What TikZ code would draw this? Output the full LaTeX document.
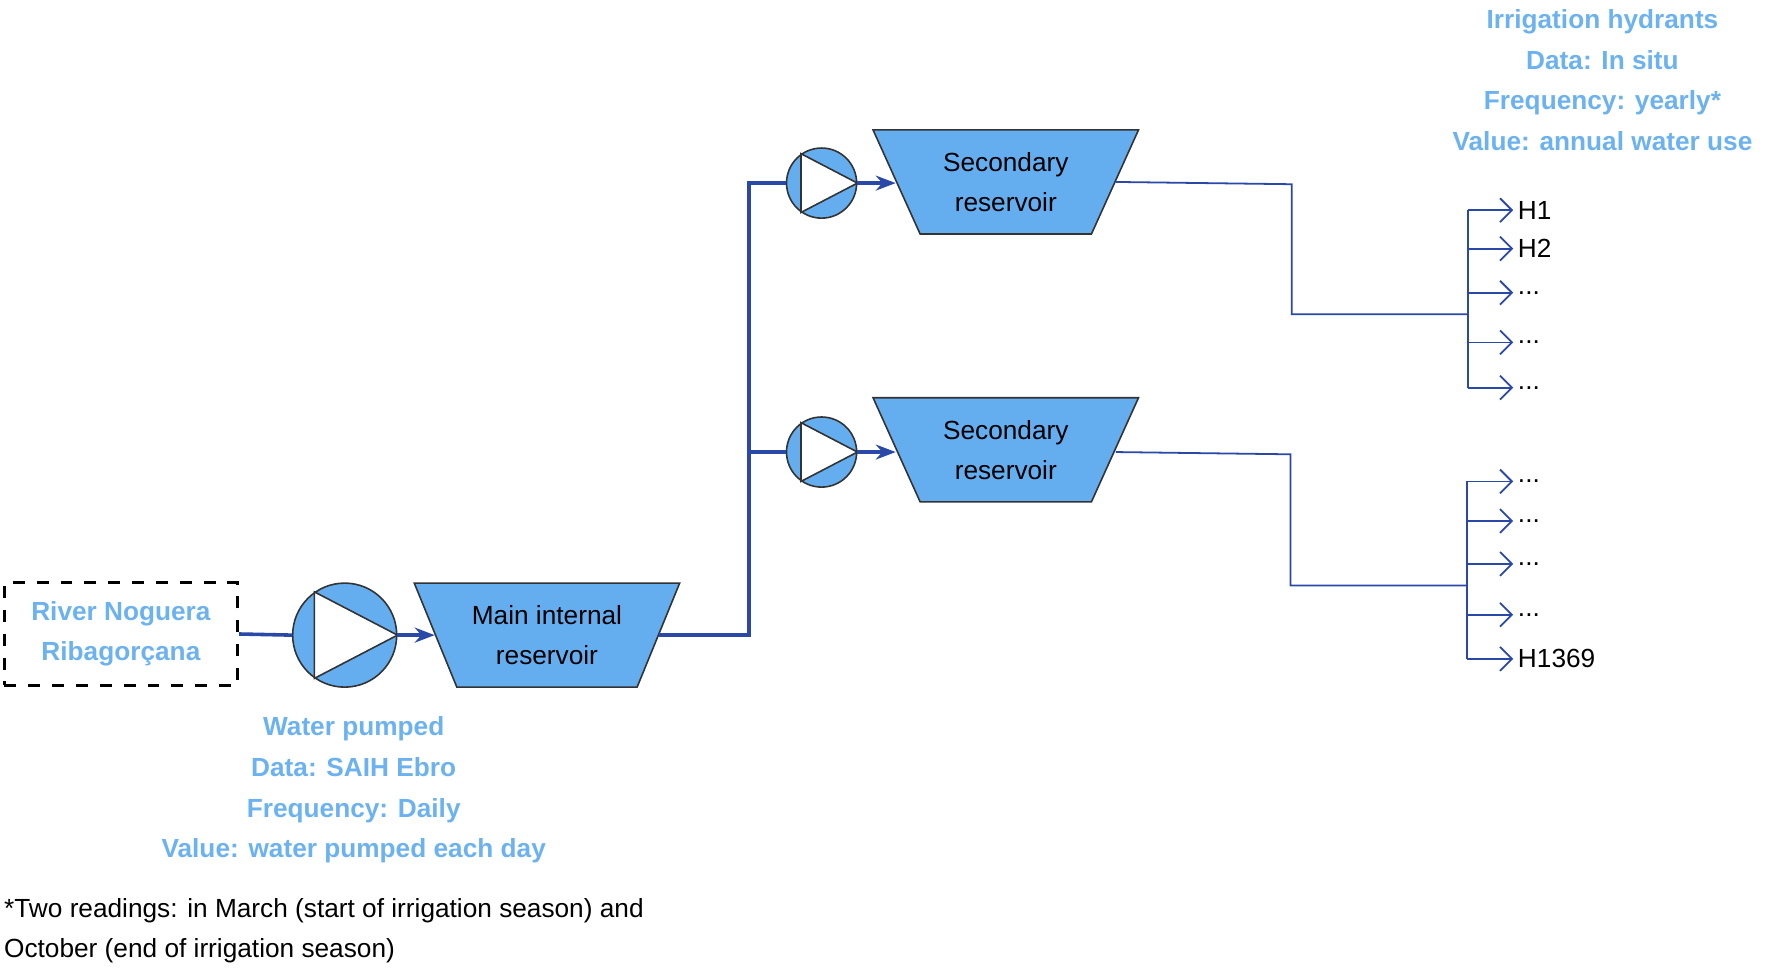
\documentclass[tikz,border=0pt]{standalone}
\usepackage{fontspec}
\setmainfont{Liberation Sans}
\usetikzlibrary{arrows.meta,shapes.geometric,positioning}
\definecolor{tank}{RGB}{100,174,240}
\definecolor{note}{RGB}{108,178,240}
\definecolor{pipe}{RGB}{42,72,168}
\newcommand\hyddots{...}
\tikzset{
  pump/.style={draw=black!80,thin,fill=tank,shape=circle,inner sep=0pt},
  res/.style={draw=black!80,thin,fill=tank,shape=trapezium,shape border rotate=180,
    trapezium stretches=true,trapezium angle=64,minimum width=2.36cm,minimum height=0.92cm,
    align=center,font=\fontsize{6.6}{10}\selectfont},
  info/.style={align=center,text=note,font=\bfseries\fontsize{6.6}{10.2}\selectfont},
  main/.style={draw=pipe,line width=0.9pt},
  feed/.style={draw=pipe,line width=0.45pt},
  hyd/.style={font=\fontsize{6.6}{8}\selectfont,anchor=west,inner sep=1pt}
}
\begin{document}
\begin{tikzpicture}[x=0.01cm,y=-0.01cm]
\useasboundingbox (0,0) rectangle (1568,857);

\path (107,561) node[draw,dashed,line width=0.9pt,minimum width=2.06cm,minimum height=0.91cm,info] (river) {River Noguera\\Ribagorçana};
\path (305,562) node[pump,minimum size=0.92cm] (P0) {};
\fill[white,draw=black!80,thin] (P0.125) -- (P0.235) -- (P0.0) -- cycle;
\path (484,562) node[res] (R0) {Main internal\\reservoir};

\path (727,162) node[pump,minimum size=0.62cm] (P1) {};
\fill[white,draw=black!80,thin] (P1.125) -- (P1.235) -- (P1.0) -- cycle;
\path (890,161) node[res] (R1) {Secondary\\reservoir};
\path (727,400) node[pump,minimum size=0.62cm] (P2) {};
\fill[white,draw=black!80,thin] (P2.125) -- (P2.235) -- (P2.0) -- cycle;
\path (890,398) node[res] (R2) {Secondary\\reservoir};

\coordinate (J0) at (663,562);
\draw[main] (river.east) -- (P0.west);
\draw[main,-{Stealth[length=5pt]}] (P0.east) -- (R0.west|-P0.east);
\draw[main] (R0.east|-J0) -- (J0) -- (J0|-P1) -- (P1.west);
\draw[main] (J0|-P2) -- (P2.west);
\draw[main,-{Stealth[length=5pt]}] (P1.east) -- (R1.west|-P1.east);
\draw[main,-{Stealth[length=5pt]}] (P2.east) -- (R2.west|-P2.east);

% hydrants
\coordinate (T1) at (1143,163); \coordinate (B1) at (1299,278);
\coordinate (T2) at (1142,402); \coordinate (B2) at (1298,518);
\draw[feed] (R1.east|-0,161) -- (T1) -- (T1|-B1) -- (B1);
\draw[feed] (R2.east|-0,400) -- (T2) -- (T2|-B2) -- (B2);
\draw[feed] (1299,186) -- (1299,343);
\draw[feed] (1298,426) -- (1298,583);
\foreach \y/\t [count=\i] in {186/H1,220/H2,259/\hyddots,303/\hyddots,343/\hyddots}{
  \node[hyd] (h\i) at (1339,\y) {\t};
  \draw[feed,-{Straight Barb[length=3pt]}] (1299,\y) -- (h\i.west);
}
\foreach \y/\t [count=\i] in {426/\hyddots,461/\hyddots,499/\hyddots,544/\hyddots,583/H1369}{
  \node[hyd] (k\i) at (1339,\y) {\t};
  \draw[feed,-{Straight Barb[length=3pt]}] (1298,\y) -- (k\i.west);
}

\node[info] (hydinfo) at (1418,71) {Irrigation hydrants\\Data: In situ\\Frequency: yearly*\\Value: annual water use};
\node[info] (pumpinfo) at (313,699) {Water pumped\\Data: SAIH Ebro\\Frequency: Daily\\Value: water pumped each day};
\node[align=left,anchor=north west,inner sep=0pt,font=\fontsize{6.6}{10.2}\selectfont] (foot) at (3,794) {*Two readings: in March (start of irrigation season) and\\October (end of irrigation season)};
\end{tikzpicture}
\end{document}
